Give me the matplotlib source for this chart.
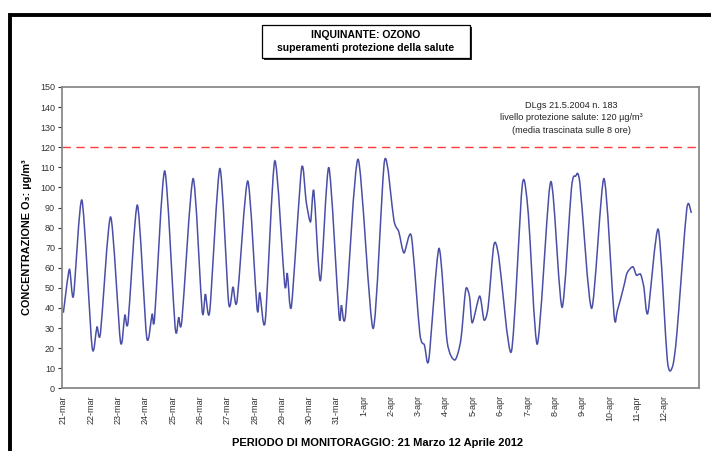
import matplotlib

matplotlib.use("Agg")
import matplotlib.pyplot as plt
from matplotlib.path import Path
from matplotlib.patches import PathPatch, Rectangle

plt.rcParams["font.family"] = ["Liberation Sans", "DejaVu Sans"]

# Ozone, 8-hour running mean; x = days since 21 Mar 2012 00:00
giorni = [
    0.00, 0.22, 0.37, 0.68, 1.05, 1.23, 1.36, 1.73, 2.09, 2.25, 2.37, 2.71,
    3.05, 3.25, 3.34, 3.71, 4.09, 4.22, 4.34, 4.75, 5.08, 5.20, 5.36, 5.73,
    6.05, 6.21, 6.36, 6.75, 7.09, 7.19, 7.39, 7.74, 8.10, 8.20, 8.35, 8.72,
    8.89, 9.05, 9.17, 9.41, 9.72, 10.09, 10.18, 10.33, 10.79, 11.34, 11.76,
    12.10, 12.28, 12.47, 12.74, 13.05, 13.22, 13.38, 13.75, 14.05, 14.33,
    14.55, 14.73, 14.87, 14.97, 15.24, 15.40, 15.55, 15.76, 15.94, 16.40,
    16.80, 17.02, 17.35, 17.78, 17.93, 18.26, 18.60, 18.75, 18.91, 19.34,
    19.79, 20.16, 20.28, 20.52, 20.64, 20.85, 20.98, 21.13, 21.25, 21.40,
    21.78, 22.11, 22.30, 22.46, 22.82, 22.99,
]
ozono = [
    37.6, 59.2, 45.9, 93.6, 20.7, 30.6, 27.7, 85.3, 23.2, 36.4, 33.1, 91.2,
    25.4, 36.9, 35.0, 108.2, 30.6, 35.3, 34.0, 104.4, 38.6, 46.9, 38.6, 109.4,
    42.6, 50.5, 43.6, 103.2, 39.8, 47.5, 33.3, 113.2, 51.9, 57.2, 40.9, 109.4,
    92.8, 82.9, 98.3, 53.5, 109.9, 36.5, 41.4, 36.5, 114.0, 29.8, 113.5,
    83.7, 77.9, 67.4, 75.7, 27.3, 21.5, 14.4, 69.6, 23.2, 14.1,
    24.0, 49.2, 45.6, 32.6, 45.9, 34.0, 40.4, 71.3, 65.4, 18.2,
    101.1, 87.0, 22.0, 97.3, 96.0, 40.3, 99.5, 105.6, 102.0, 39.8,
    104.4, 36.5, 38.6, 50.9, 57.5, 60.5, 56.3, 56.8, 50.5, 37.6,
    79.1, 14.1, 10.8, 27.3, 89.0, 87.3,
]
soglia = 120
etichette_giorni = [f"{d}-mar" for d in range(21, 32)] + [f"{d}-apr" for d in range(1, 13)]

W, H = 711, 451


def smooth_path(x, y, k=8.0):
    # Bezier curve through the points (smoothed-line look)
    n = len(x)
    verts = [(x[0], y[0])]
    codes = [Path.MOVETO]
    for i in range(n - 1):
        p0 = i - 1 if i > 0 else i
        p3 = i + 2 if i + 2 < n else i + 1
        c1 = (x[i] + (x[i + 1] - x[p0]) / k, y[i] + (y[i + 1] - y[p0]) / k)
        c2 = (x[i + 1] - (x[p3] - x[i]) / k, y[i + 1] - (y[p3] - y[i]) / k)
        verts += [c1, c2, (x[i + 1], y[i + 1])]
        codes += [Path.CURVE4] * 3
    return Path(verts, codes)


fig = plt.figure(figsize=(W / 100, H / 100), dpi=100)
ax = fig.add_axes([62 / W, 1 - 388.3 / H, (699 - 62) / W, (388.3 - 87) / H])

ax.add_patch(PathPatch(smooth_path(giorni, ozono), fill=False,
                       edgecolor="#4a4ea6", linewidth=1.1))
ax.axhline(soglia, color="#ff3b3b", linewidth=1.0, dashes=(6, 4))

ax.set_xlim(-0.05, 23.27)
ax.set_ylim(0, 150)
ax.set_yticks(range(0, 151, 10))
ax.tick_params(axis="y", labelsize=6.5, length=3, width=0.8,
               colors="#333333", pad=2)
ax.set_xticks(range(len(etichette_giorni)))
ax.set_xticklabels(etichette_giorni, rotation=90, fontsize=6.5, color="#333333")
ax.tick_params(axis="x", length=0, pad=5)
for s in ax.spines.values():
    s.set_color("#8a8a8a")
    s.set_linewidth(1.3)

ax.set_ylabel("CONCENTRAZIONE O\u2083: \u00b5g/m\u00b3", fontsize=7.8,
              fontweight="bold", labelpad=6)

ax.text(0.80, 0.955, "DLgs 21.5.2004 n. 183\nlivello protezione salute: 120 \u00b5g/m\u00b3\n"
        "(media trascinata sulle 8 ore)", transform=ax.transAxes,
        ha="center", va="top", fontsize=6.6, linespacing=1.5, color="#222222")

fig.text(378 / W, 1 - 443 / H, "PERIODO DI MONITORAGGIO: 21 Marzo 12 Aprile 2012",
         ha="center", va="center", fontsize=8, fontweight="bold")

# title box with drop shadow
bx0, by0, bx1, by1 = 262, 25, 470, 58
fig.add_artist(Rectangle(((bx0 + 2) / W, 1 - (by1 + 2) / H), (bx1 - bx0) / W,
                         (by1 - by0) / H, facecolor="#222222", edgecolor="none"))
fig.add_artist(Rectangle((bx0 / W, 1 - by1 / H), (bx1 - bx0) / W, (by1 - by0) / H,
                         facecolor="white", edgecolor="black", linewidth=0.9))
fig.text((bx0 + bx1) / 2 / W, 1 - 35 / H, "INQUINANTE: OZONO", ha="center",
         va="center", fontsize=7.5, fontweight="bold")
fig.text((bx0 + bx1) / 2 / W, 1 - 48 / H, "superamenti protezione della salute",
         ha="center", va="center", fontsize=7.5, fontweight="bold")

# outer frame (runs off the right and bottom edges)
fig.add_artist(Rectangle((10 / W, -0.2), 1.2, 1.2 - 15 / H,
                         facecolor="none", edgecolor="black", linewidth=2.8))

fig.savefig("out.png", dpi=100)
